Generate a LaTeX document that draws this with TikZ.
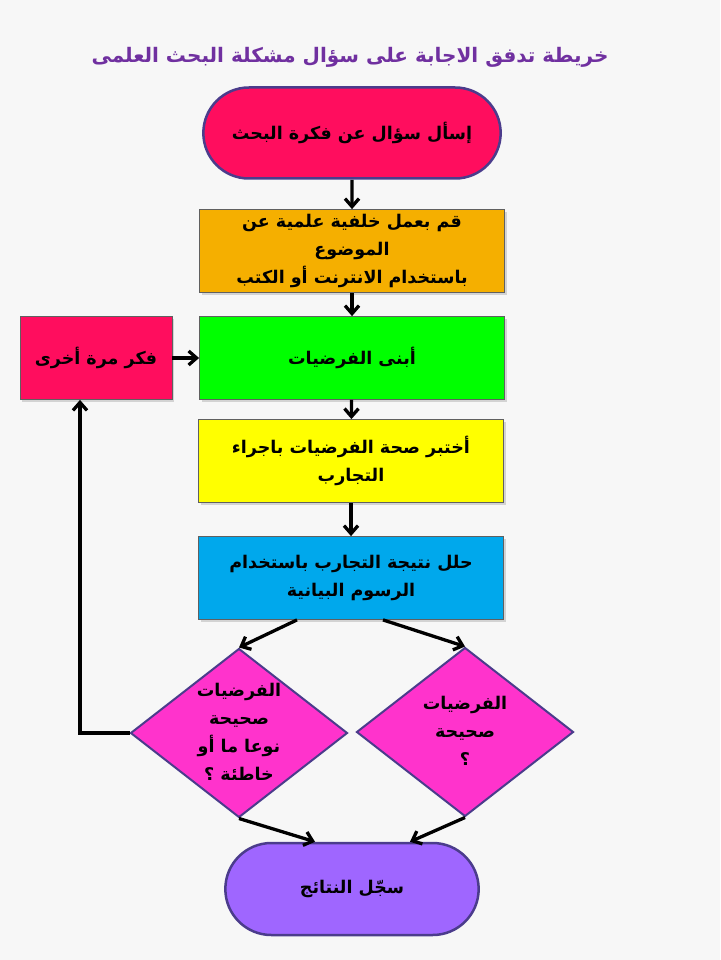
\documentclass[tikz,border=0pt]{standalone}
\usepackage{fontspec}
\usetikzlibrary{arrows.meta,positioning,shapes.geometric,shapes.misc,shadows}
\newfontfamily\arabicfont[Script=Arabic]{DejaVu Sans}
\TeXXeTstate=1
\definecolor{pagebg}{HTML}{F7F7F7}
\definecolor{titlepurple}{HTML}{7030A0}
\definecolor{askred}{HTML}{FF0D5E}
\definecolor{termline}{HTML}{4B3C8C}
\definecolor{boxline}{HTML}{606060}
\definecolor{bgorange}{HTML}{F5AF00}
\definecolor{hypgreen}{HTML}{00FF00}
\definecolor{testyellow}{HTML}{FFFF00}
\definecolor{anablue}{HTML}{00A8EC}
\definecolor{diapink}{HTML}{FF33CC}
\definecolor{respurple}{HTML}{9F66FF}
\newcommand{\artx}[1]{\beginR #1\endR}
\newcommand{\diatx}[1]{\smash{\raisebox{-4pt}{\makebox[0pt]{\begin{tabular}{@{}c@{}}#1\end{tabular}}}}}

\begin{document}
\begin{tikzpicture}[x=1pt,y=-1pt,font=\arabicfont\bfseries\fontsize{17.5}{28}\selectfont,
box/.style={draw=boxline,line width=0.8pt,align=center,minimum width=305pt,minimum height=83pt,drop shadow={opacity=.3,shadow xshift=2pt,shadow yshift=-2pt}},
term/.style={rounded rectangle,draw=termline,line width=2.5pt,align=center},
dia/.style={diamond,draw=termline,line width=2pt,fill=diapink,minimum width=217pt,minimum height=169pt,inner sep=0pt},
arr/.style={-{Straight Barb[length=8pt,width=14pt]},line width=3.3pt}]
\useasboundingbox[fill=pagebg] (0,0) rectangle (720,960);
\node[text=titlepurple,font=\arabicfont\bfseries\fontsize{20}{24}\selectfont] (title) at (350,57) {\artx{خريطة تدفق الاجابة على سؤال مشكلة البحث العلمى}};
\node[term,fill=askred,minimum width=304pt,minimum height=91pt] (ask) at (352,133) {\artx{إسأل سؤال عن فكرة البحث}};
\node[box,fill=bgorange] (back) at (352,251) {\artx{قم بعمل خلفية علمية عن}\\\artx{الموضوع}\\\artx{باستخدام الانترنت أو الكتب}};
\node[box,fill=hypgreen] (hyp) at (352,358) {\artx{أبنى الفرضيات}};
\node[box,fill=askred,minimum width=152pt] (think) at (96,358) {\artx{فكر مرة أخرى}};
\node[box,fill=testyellow] (test) at (351,461) {\artx{أختبر صحة الفرضيات باجراء}\\\artx{التجارب}};
\node[box,fill=anablue] (ana) at (351,578) {\artx{حلل نتيجة التجارب باستخدام}\\\artx{الرسوم البيانية}};
\node[dia] (dl) at (239,733) {\diatx{\artx{الفرضيات}\\\artx{صحيحة}\\\artx{نوعا ما أو}\\\artx{خاطئة ؟}}};
\node[dia] (dr) at (465,732) {\diatx{\artx{الفرضيات}\\\artx{صحيحة}\\\artx{؟}}};
\node[term,fill=respurple,minimum width=260pt,minimum height=92pt] (res) at (352,889) {\artx{سجّل النتائج}};
\draw[arr](ask)--(back);\draw[arr](back)--(hyp);\draw[arr](think)--(hyp);
\draw[arr](hyp)--(test);\draw[arr](test)--(ana);
\draw[arr]([xshift=-54pt]ana.south)--(dl.north);\draw[arr]([xshift=32pt]ana.south)--(dr.north);
\draw[arr](dl.west)-|([xshift=-16pt]think.south);
\draw[arr](dl.south)--([xshift=-37pt]res.north);\draw[arr](dr.south)--([xshift=58pt]res.north);
\end{tikzpicture}
\end{document}
